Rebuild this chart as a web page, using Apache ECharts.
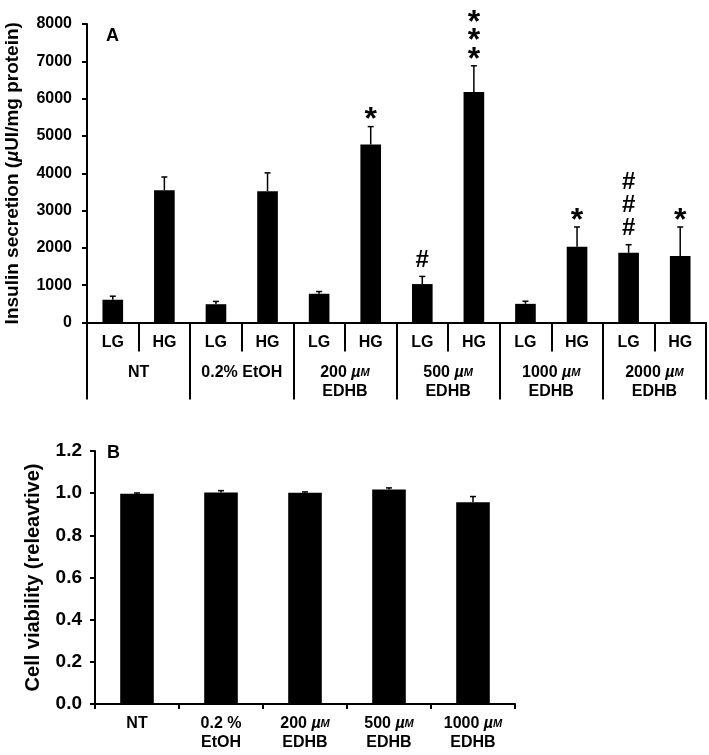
<!DOCTYPE html>
<html>
<head>
<meta charset="utf-8">
<script src="https://cdn.jsdelivr.net/npm/echarts@6/dist/echarts.min.js"></script>
<style>
html,body{margin:0;padding:0;background:#fff;}
#chart{width:709px;height:755px;}
</style>
</head>
<body>
<div id="chart"></div>
<script>
// ---- Panel A data ----
var glucoseLabels = ['LG','HG','LG','HG','LG','HG','LG','HG','LG','HG','LG','HG'];
var groupLabels = ['NT', '0.2% EtOH', '200 {i|µ}{s|M}\nEDHB', '500 {i|µ}{s|M}\nEDHB', '1000 {i|µ}{s|M}\nEDHB', '2000 {i|µ}{s|M}\nEDHB'];
var insulinMean = [610, 3545, 490, 3520, 770, 4770, 1030, 6180, 500, 2030, 1870, 1780];
var insulinErr  = [95, 355, 75, 490, 60, 480, 205, 700, 70, 530, 215, 780];
var insulinSig  = ['', '', '', '', '', '*', '#', '***', '', '*', '###', '*'];
var insulinTicks = [0, 1000, 2000, 3000, 4000, 5000, 6000, 7000, 8000];

// ---- Panel B data ----
var viabilityLabels = ['NT', '0.2 %\nEtOH', '200 {i|µ}{s|M}\nEDHB', '500 {i|µ}{s|M}\nEDHB', '1000 {i|µ}{s|M}\nEDHB'];
var viabilityMean = [0.997, 1.003, 1.002, 1.017, 0.957];
var viabilityErr  = [0.004, 0.009, 0.004, 0.008, 0.027];
var viabilityTicks = [0.0, 0.2, 0.4, 0.6, 0.8, 1.0, 1.2];

var FONT = "'Liberation Sans', Arial, sans-serif";

function richMu(size) {
  return {
    i: {fontStyle: 'italic', fontWeight: 'bold', fontSize: size, fontFamily: FONT, color: '#000'},
    s: {fontStyle: 'italic', fontWeight: 'bold', fontSize: Math.round(size * 0.7), fontFamily: FONT, color: '#000'}
  };
}

function errRender(means, errs) {
  return function (params, api) {
    var i = api.value(0);
    var top = api.coord([i, means[i] + errs[i]]);
    var base = api.coord([i, means[i]]);
    return {
      type: 'group',
      children: [
        {type: 'line', shape: {x1: base[0], y1: base[1], x2: top[0], y2: top[1]}, style: {stroke: '#000', lineWidth: 1.5}},
        {type: 'line', shape: {x1: top[0] - 3, y1: top[1], x2: top[0] + 3, y2: top[1]}, style: {stroke: '#000', lineWidth: 1.5}}
      ]
    };
  };
}

function sigRender(params, api) {
  var i = api.value(0);
  var s = insulinSig[i];
  if (!s) return null;
  var top = api.coord([i, insulinMean[i] + insulinErr[i]]);
  var kids = [];
  for (var k = 0; k < s.length; k++) {
    var ch = s.charAt(k);
    var isStar = ch === '*';
    var gap = isStar ? 14 : 16;
    var step = isStar ? 18.5 : 23;
    var cy = top[1] - gap - k * step;
    kids.push({
      type: 'text',
      style: {
        text: ch, x: top[0], y: cy + (isStar ? 8 : 0),
        align: 'center', verticalAlign: 'middle',
        font: 'bold ' + (isStar ? 32 : 24) + 'px ' + FONT, fill: '#000'
      }
    });
  }
  return {type: 'group', children: kids};
}

var idxA = insulinMean.map(function (v, i) { return [i, v]; });
var idxB = viabilityMean.map(function (v, i) { return [i, v]; });

var axisLine = {show: true, lineStyle: {color: '#000', width: 2}};

var option = {
  animation: false,
  backgroundColor: '#fff',
  title: [
    {text: 'A', left: 106, top: 27, padding: 0, textStyle: {fontFamily: FONT, fontWeight: 'bold', fontSize: 18, color: '#000'}},
    {text: 'B', left: 107, top: 444, padding: 0, textStyle: {fontFamily: FONT, fontWeight: 'bold', fontSize: 18, color: '#000'}}
  ],
  grid: [
    {left: 87, right: 3, top: 24, height: 298.5, containLabel: false, outerBoundsMode: 'none'},
    {left: 95, width: 420, top: 451, height: 253, containLabel: false, outerBoundsMode: 'none'}
  ],
  xAxis: [
    {
      type: 'category', gridIndex: 0, data: glucoseLabels,
      axisLine: axisLine,
      axisTick: {show: true, interval: 0, length: 29, lineStyle: {color: '#000', width: 2}},
      axisLabel: {interval: 0, margin: 12, fontFamily: FONT, fontWeight: 'bold', fontSize: 16, lineHeight: 16, color: '#000'}
    },
    {
      type: 'category', gridIndex: 0, position: 'bottom', data: groupLabels,
      axisLine: {show: false},
      axisTick: {show: true, interval: 0, length: 77, lineStyle: {color: '#000', width: 2}},
      axisLabel: {interval: 0, margin: 41, fontFamily: FONT, fontWeight: 'bold', fontSize: 16, lineHeight: 19, color: '#000', rich: richMu(16)}
    },
    {
      type: 'category', gridIndex: 1, data: viabilityLabels,
      axisLine: axisLine,
      axisTick: {show: true, interval: 0, length: 5, lineStyle: {color: '#000', width: 2}},
      axisLabel: {interval: 0, margin: 10, fontFamily: FONT, fontWeight: 'bold', fontSize: 16, lineHeight: 19, color: '#000', rich: richMu(16)}
    }
  ],
  yAxis: [
    {
      type: 'value', gridIndex: 0, min: insulinTicks[0], max: insulinTicks[insulinTicks.length - 1], interval: 1000,
      axisLine: axisLine,
      axisTick: {show: true, length: 5, lineStyle: {color: '#000', width: 2}},
      splitLine: {show: false},
      axisLabel: {margin: 15, fontFamily: FONT, fontWeight: 'bold', fontSize: 16, color: '#000',
        formatter: function (v) { return String(v); }},
      name: 'Insulin secretion ({i|µ}UI/mg protein)', nameLocation: 'middle', nameGap: 65,
      nameTextStyle: {fontFamily: FONT, fontWeight: 'bold', fontSize: 19, color: '#000', rich: richMu(19)}
    },
    {
      type: 'value', gridIndex: 1, min: viabilityTicks[0], max: viabilityTicks[viabilityTicks.length - 1], interval: 0.2,
      axisLine: axisLine,
      axisTick: {show: true, length: 5, lineStyle: {color: '#000', width: 2}},
      splitLine: {show: false},
      axisLabel: {margin: 13, fontFamily: FONT, fontWeight: 'bold', fontSize: 19, color: '#000',
        formatter: function (v) { return v.toFixed(1); }},
      name: 'Cell viability (releavtive)', nameLocation: 'middle', nameGap: 52,
      nameTextStyle: {fontFamily: FONT, fontWeight: 'bold', fontSize: 20, color: '#000'}
    }
  ],
  series: [
    {type: 'bar', xAxisIndex: 0, yAxisIndex: 0, data: insulinMean, barWidth: '40%', itemStyle: {color: '#000'}},
    {type: 'custom', xAxisIndex: 0, yAxisIndex: 0, data: idxA, renderItem: errRender(insulinMean, insulinErr), z: 5},
    {type: 'custom', xAxisIndex: 0, yAxisIndex: 0, data: idxA, renderItem: sigRender, z: 6},
    {type: 'bar', xAxisIndex: 2, yAxisIndex: 1, data: viabilityMean, barWidth: '40%', itemStyle: {color: '#000'}},
    {type: 'custom', xAxisIndex: 2, yAxisIndex: 1, data: idxB, renderItem: errRender(viabilityMean, viabilityErr), z: 5}
  ]
};

var chart = echarts.init(document.getElementById('chart'), null, {renderer: 'canvas'});
chart.setOption(option);
</script>
</body>
</html>
